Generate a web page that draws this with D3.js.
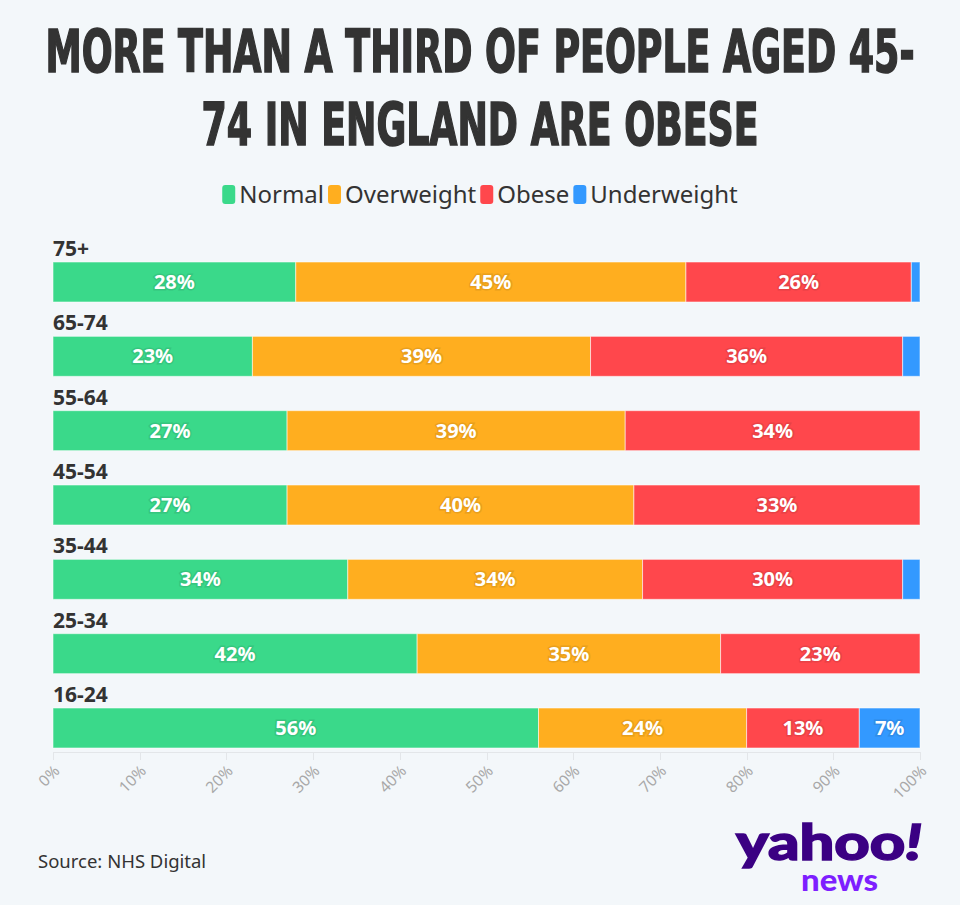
<!DOCTYPE html>
<html>
  <head>
    <meta charset="utf-8">
    <title>Obesity by age</title>
    <script type="text/javascript" src="https://cdn.jsdelivr.net/npm/d3@7"></script>
    <style type='text/css'>
      body { margin: 0; background: #f3f7fa; }
      svg { display: block; }
      .axis path, .axis line { stroke: #e3e6e9; shape-rendering: crispEdges; }
      .axis text { font-family: 'Noto Sans', sans-serif; font-size: 15.5px; fill: #a8a8a8; }
    </style>
  </head>
  <body>
    <script type="text/javascript">
      var w = 960;
      var h = 905;

      // data
      var groups = ['75+', '65-74', '55-64', '45-54', '35-44', '25-34', '16-24'];
      var normal = [28, 23, 27, 27, 34, 42, 56];
      var overweight = [45, 39, 39, 40, 34, 35, 24];
      var obese = [26, 36, 34, 33, 30, 23, 13];
      var underweight = [1, 2, 0, 0, 2, 0, 7];
      var seriesNames = ['Normal', 'Overweight', 'Obese', 'Underweight'];
      var seriesColors = ['#3ad98a', '#ffae1f', '#ff474c', '#3399ff'];
      var tickValues = [0, 10, 20, 30, 40, 50, 60, 70, 80, 90, 100];

      var rows = groups.map(function(g, i) {
        return {group: g, Normal: normal[i], Overweight: overweight[i], Obese: obese[i], Underweight: underweight[i]};
      });

      var svg = d3.select('body')
                  .append('svg')
                  .attr('width', w)
                  .attr('height', h);

      svg.append('rect').attr('width', w).attr('height', h).attr('fill', '#f3f7fa');

      // title
      var titleLines = [
        {text: 'MORE THAN A THIRD OF PEOPLE AGED 45-', y: 72, len: 869},
        {text: '74 IN ENGLAND ARE OBESE', y: 145, len: 557}
      ];
      svg.selectAll('text.title')
        .data(titleLines)
        .enter()
        .append('text')
        .attr('class', 'title')
        .attr('x', w / 2)
        .attr('y', function(d) { return d.y; })
        .attr('text-anchor', 'middle')
        .attr('textLength', function(d) { return d.len; })
        .attr('lengthAdjust', 'spacingAndGlyphs')
        .style('font-family', "'DejaVu Sans Condensed', 'DejaVu Sans', sans-serif")
        .style('font-weight', 'bold')
        .style('font-size', '58px')
        .style('fill', '#333333')
        .style('stroke', '#333333')
        .style('stroke-width', '1.6px')
        .text(function(d) { return d.text; });

      // legend
      var legend = svg.append('g').attr('class', 'legend');
      var lx = 0;
      seriesNames.forEach(function(name, i) {
        var item = legend.append('g').attr('transform', 'translate(' + lx + ',0)');
        item.append('rect')
          .attr('x', 0).attr('y', 185)
          .attr('width', 13).attr('height', 19)
          .attr('rx', 3)
          .attr('fill', seriesColors[i]);
        var t = item.append('text')
          .attr('x', 17).attr('y', 203)
          .style('font-family', "'Noto Sans', sans-serif")
          .style('font-size', '24px')
          .style('fill', '#333333')
          .text(name);
        lx += 17 + t.node().getComputedTextLength() + 4;
      });
      legend.attr('transform', 'translate(' + ((w - (lx - 4)) / 2) + ',0)');

      var xScale = d3.scaleLinear()
                      .domain([0, 100])
                      .range([53, 920]);

      var yScale = d3.scaleBand()
                      .domain(groups)
                      .range([262, 748])
                      .paddingInner(0.462)
                      .paddingOuter(0);

      var stack = d3.stack().keys(seriesNames);
      var stacked = stack(rows);

      // group labels
      svg.selectAll('text.group')
        .data(groups)
        .enter()
        .append('text')
        .attr('class', 'group')
        .attr('x', 53)
        .attr('y', function(d) { return yScale(d) - 6; })
        .style('font-family', "'Noto Sans', sans-serif")
        .style('font-weight', 'bold')
        .style('font-size', '21px')
        .style('fill', '#333333')
        .text(function(d) { return d; });

      var layers = svg.selectAll('g.layer')
        .data(stacked)
        .enter()
        .append('g')
        .attr('class', 'layer')
        .attr('fill', function(d, i) { return seriesColors[i]; });

      layers.selectAll('rect')
        .data(function(d) { return d.filter(function(s) { return s[1] - s[0] > 0; }); })
        .enter()
        .append('rect')
        .attr('x', function(d) { return xScale(d[0]); })
        .attr('y', function(d) { return yScale(d.data.group); })
        .attr('width', function(d) { return xScale(d[1]) - xScale(d[0]); })
        .attr('height', yScale.bandwidth())
        .attr('stroke', '#ffffff')
        .attr('stroke-opacity', 0.55)
        .attr('stroke-width', 1);

      layers.each(function(layer, i) {
        d3.select(this).selectAll('text')
          .data(layer.filter(function(s) { return s[1] - s[0] >= 5; }))
          .enter()
          .append('text')
          .attr('x', function(d) { return (xScale(d[0]) + xScale(d[1])) / 2; })
          .attr('y', function(d) { return yScale(d.data.group) + yScale.bandwidth() / 2 + 7; })
          .attr('text-anchor', 'middle')
          .style('font-family', "'Noto Sans', sans-serif")
          .style('font-weight', 'bold')
          .style('font-size', '20px')
          .style('fill', '#ffffff')
          .style('stroke', d3.color(seriesColors[i]).darker(0.25))
          .style('stroke-width', '3px')
          .style('paint-order', 'stroke')
          .text(function(d) { return (d[1] - d[0]) + '%'; });
      });

      // x axis
      var xAxis = d3.axisBottom()
                    .scale(xScale)
                    .tickValues(tickValues)
                    .tickSize(8)
                    .tickSizeOuter(0)
                    .tickFormat(function(d) { return d + '%'; });

      svg.append('g')
          .attr('class', 'x axis')
          .attr('transform', 'translate(0,752)')
          .call(xAxis)
        .selectAll('text')
          .attr('text-anchor', 'end')
          .attr('dy', null)
          .attr('y', 0)
          .attr('transform', 'translate(7,20) rotate(-45)');

      // source
      svg.append('text')
          .attr('x', 38)
          .attr('y', 868)
          .style('font-family', "'Noto Sans', sans-serif")
          .style('font-size', '18.5px')
          .style('fill', '#333333')
          .text('Source: NHS Digital');

      // logo
      var logo = svg.append('text')
          .attr('x', 736)
          .attr('y', 860)
          .attr('textLength', 186)
          .attr('lengthAdjust', 'spacingAndGlyphs')
          .style('font-family', "Lato, 'Noto Sans', sans-serif")
          .style('font-weight', 900)
          .style('font-size', '50px')
          .style('fill', '#3b0083')
          .style('stroke', '#3b0083')
          .style('stroke-width', '1.5px');
      logo.append('tspan').text('yahoo');
      logo.append('tspan').style('font-style', 'italic').text('!');

      svg.append('text')
          .attr('x', 801)
          .attr('y', 891)
          .attr('textLength', 77)
          .attr('lengthAdjust', 'spacingAndGlyphs')
          .style('font-family', "Lato, 'Noto Sans', sans-serif")
          .style('font-weight', 900)
          .style('font-size', '30px')
          .style('fill', '#7e1fff')
          .text('news');
    </script>
  </body>
</html>
